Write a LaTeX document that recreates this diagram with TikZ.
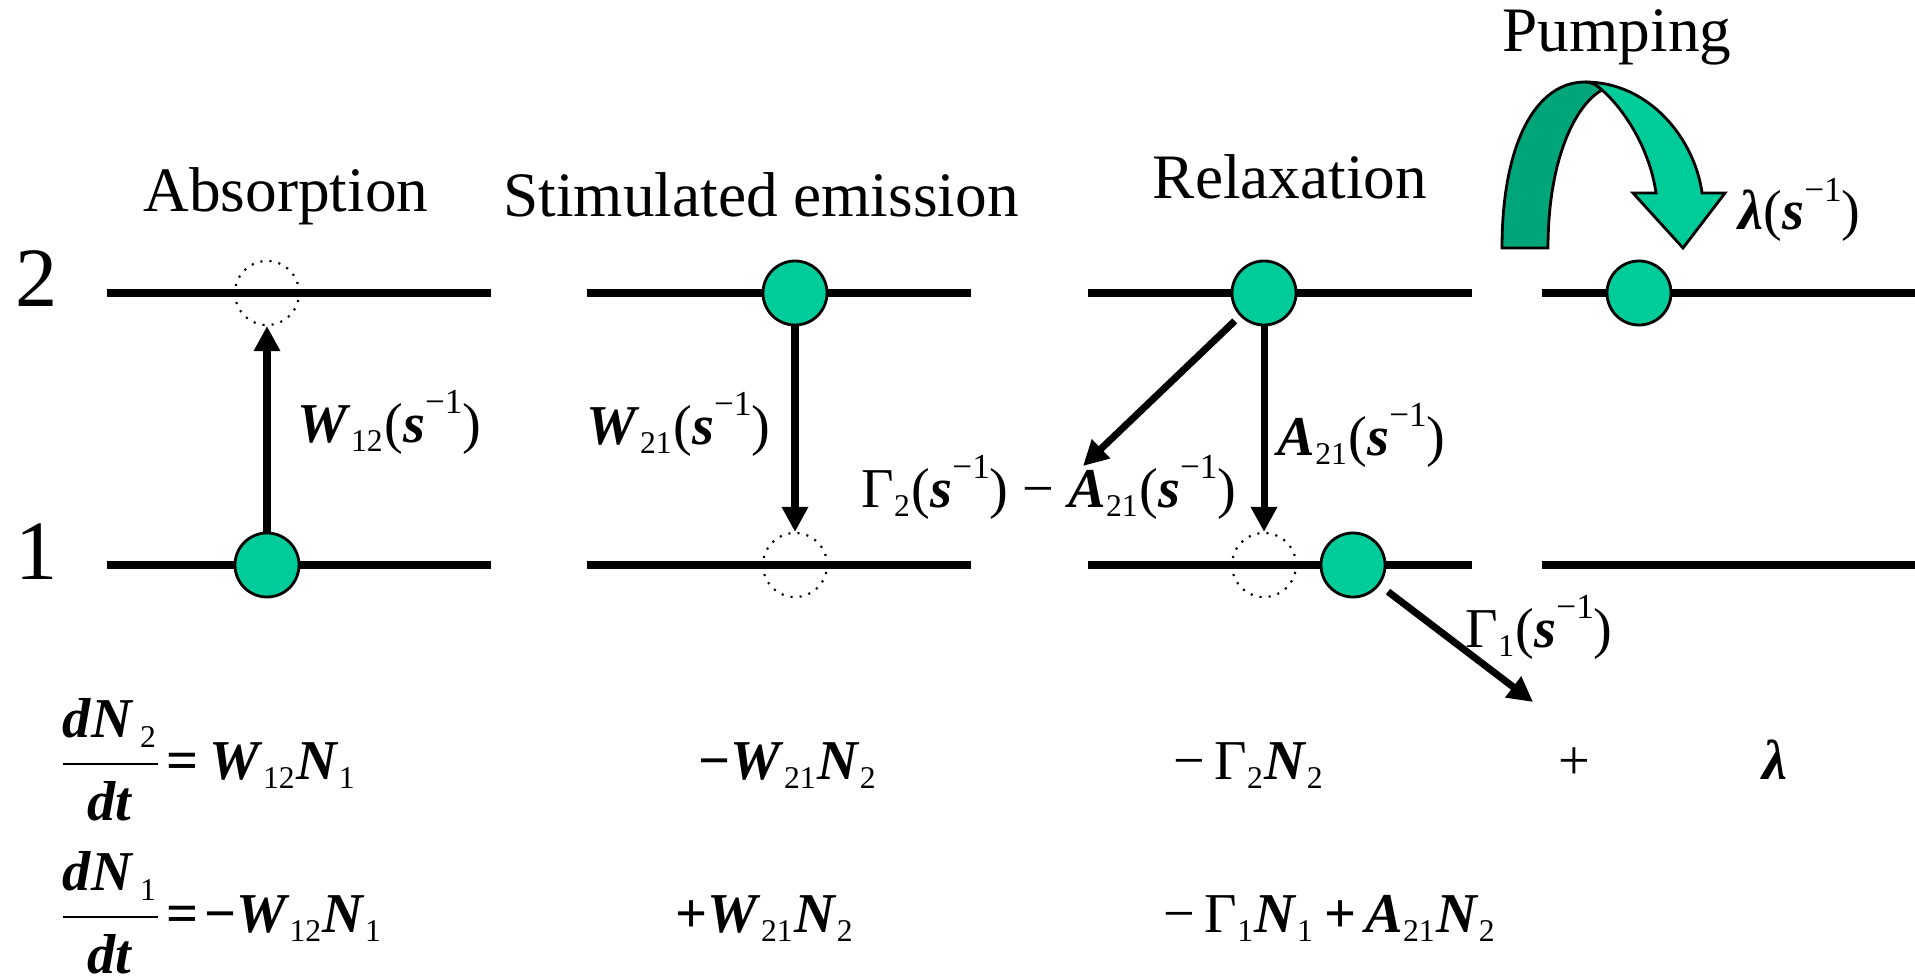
\documentclass[tikz,border=0pt]{standalone}
\usepackage{fontspec}
\setmainfont{Liberation Serif}
\usepackage{amsmath}
\usetikzlibrary{arrows.meta}
\definecolor{Mint}{HTML}{00CC99}
\definecolor{DeepMint}{HTML}{00A57A}
\DeclareMathSizes{16}{16}{9}{7}
\newcommand{\bv}[1]{\textbf{\textit{#1}}}
\newcommand{\sub}[1]{\textsubscript{\normalfont #1}}
\newcommand{\pers}{(\bv{s}\raisebox{0.5em}{\fontsize{10}{10}\selectfont −1})}
\tikzset{
  energyline/.style={line width=2pt},
  atom/.style={circle, draw, line width=0.8pt, fill=Mint, minimum size=0.64cm, inner sep=0pt},
  hole/.style={circle, draw, dotted, line width=0.6pt, minimum size=0.64cm, inner sep=0pt},
  jump/.style={line width=2pt, -{Triangle[length=0.25cm,width=0.25cm]}},
  title/.style={font=\fontsize{18}{22}\selectfont, anchor=base, inner sep=0pt},
  levelno/.style={font=\fontsize{24}{28}\selectfont, anchor=base, inner sep=0pt},
  rate/.style={font=\fontsize{16}{19}\selectfont, anchor=base west, inner sep=0pt},
  eqn/.style={font=\fontsize{16}{19}\selectfont, anchor=base, inner sep=0pt}
}
\begin{document}
\begin{tikzpicture}[x=0.01cm, y=-0.01cm]
    \useasboundingbox (0,0) rectangle (1915,976);
    \foreach \xa/\xb in {107/491,587/971,1088/1472,1542/1915} {
      \draw[energyline] (\xa,293) -- (\xb,293);
      \draw[energyline] (\xa,565) -- (\xb,565);
    }
    \node[levelno] (lvl2) at (37,307) {2};
    \node[levelno] (lvl1) at (37,579) {1};
    \node[title] (tAbs) at (286,212) {Absorption};
    \node[title] (tStim) at (761,216) {Stimulated emission};
    \node[title] (tRel) at (1290,199) {Relaxation};
    \node[title] (tPump) at (1617,52) {Pumping};

    \node[atom] (absLow) at (267,565) {};
    \node[hole] (absUp) at (267,293) {};
    \node[atom] (stimUp) at (795,293) {};
    \node[hole] (stimLow) at (795,565) {};
    \node[atom] (relUp) at (1264,293) {};
    \node[hole] (relLow) at (1264,565) {};
    \node[atom] (relOut) at (1353,565) {};
    \node[atom] (pumpUp) at (1639,293) {};
    \coordinate (g2end) at (1083,466);
    \coordinate (g1end) at (1533,702);

    \draw[jump] (absLow) -- (absUp);
    \draw[jump] (stimUp) -- (stimLow);
    \draw[jump] (relUp) -- (relLow);
    \draw[jump, shorten <=2pt] (relUp) -- (g2end);
    \draw[jump, shorten <=3pt] (relOut) -- (g1end);

    \draw[fill=DeepMint, line width=0.8pt] (1502,248) -- (1548,248)
      .. controls (1548,160) and (1575,105) .. (1602,90)
      .. controls (1597,85) and (1592,82) .. (1585,82)
      .. controls (1535,82) and (1502,145) .. (1502,248) -- cycle;
    \draw[fill=Mint, line width=0.8pt] (1585,82)
      .. controls (1650,82) and (1695,140) .. (1702,193)
      -- (1725,193) -- (1683,248) -- (1633,193) -- (1656,193)
      .. controls (1650,150) and (1625,110) .. (1602,90)
      .. controls (1597,85) and (1592,82) .. (1585,82) -- cycle;

    \node[rate] (w12) at (297,442) {\bv{W}\sub{12}\pers};
    \node[rate] (w21) at (586,444) {\bv{W}\sub{21}\pers};
    \node[rate] (a21) at (1277,455) {\bv{A}\sub{21}\pers};
    \node[rate] (g2) at (861,507) {Γ\sub{2}\pers\ − \bv{A}\sub{21}\pers};
    \node[rate] (g1) at (1465,647) {Γ\sub{1}\pers};
    \node[rate] (lam) at (1738,230) {\bv{λ}\pers};

    \node[eqn, anchor=base west] (eq2a) at (58,779) {$\dfrac{\text{\bv{dN}\hspace{0.12em}\sub{2}}}{\text{\bv{dt}}}$\hspace{0.08em}\textbf{=}\hspace{0.2em}\bv{W}\sub{12}\bv{N}\sub{1}};
    \node[eqn] (eq2b) at (788,779) {\textbf{−}\bv{W}\sub{21}\bv{N}\sub{2}};
    \node[eqn] (eq2c) at (1249,779) {−\,Γ\sub{2}\bv{N}\sub{2}};
    \node[eqn] (eq2d) at (1574,779) {+};
    \node[eqn] (eq2e) at (1775,779) {\bv{λ}};
    \node[eqn, anchor=base west] (eq1a) at (58,932) {$\dfrac{\text{\bv{dN}\hspace{0.12em}\sub{1}}}{\text{\bv{dt}}}$\hspace{0.08em}\textbf{=}\hspace{0.1em}\textbf{−}\bv{W}\sub{12}\bv{N}\sub{1}};
    \node[eqn] (eq1b) at (765,932) {\textbf{+}\bv{W}\sub{21}\bv{N}\sub{2}};
    \node[eqn] (eq1c) at (1330,932) {−\,Γ\sub{1}\bv{N}\sub{1}\,\textbf{+}\,\bv{A}\sub{21}\bv{N}\sub{2}};
  \end{tikzpicture}
\end{document}
